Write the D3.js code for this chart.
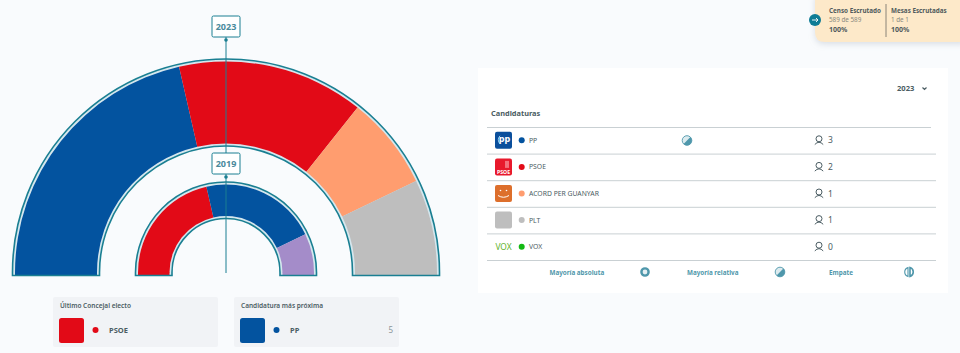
<!DOCTYPE html>
<html lang="es">
<head>
<meta charset="utf-8">
<title>Resultados</title>
<script src="https://cdn.jsdelivr.net/npm/d3@7"></script>
<style>
  html, body { margin: 0; padding: 0; background: #f9fbfd; }
  svg { display: block; font-family: "Noto Sans", sans-serif; }
</style>
</head>
<body>
<div id="chart"></div>
<script>
// Seats per candidacy, left to right around each half ring
const parties2023 = ['PP', 'PSOE', 'ACORD PER GUANYAR', 'PLT'];
const seats2023 = [3, 2, 1, 1];
const colors2023 = ['#03539f', '#e20a17', '#ff9d6f', '#bebebe'];

const parties2019 = ['PSOE', 'PP', 'Otra'];
const seats2019 = [3, 3, 1];
const colors2019 = ['#e20a17', '#03539f', '#a48cc9'];

// Table on the right
const tableParties = ['PP', 'PSOE', 'ACORD PER GUANYAR', 'PLT', 'VOX'];
const tableSeats = [3, 2, 1, 1, 0];
const tableColors = ['#03539f', '#e20a17', '#ff9d6f', '#bebebe', '#13b913'];

const legendLabels = ['Mayoría absoluta', 'Mayoría relativa', 'Empate'];

const TEAL = '#1a7f92';
const INK = '#4b5d63';
const LABEL = '#4f97ab';

const svg = d3.select('#chart').append('svg')
  .attr('width', 960)
  .attr('height', 353)
  .attr('role', 'img')
  .attr('aria-label', 'Semicírculos de concejales por candidatura en 2023 y 2019');

// Half rings. The arcs sit a little above the baseline, with short straight legs below them
const cx = 226;
const cy = 272.5;
const LEG = 3;
const pie = d3.pie().sort(null).startAngle(-Math.PI / 2).endAngle(Math.PI / 2);

function shellPath(outer, inner) {
  const p = d3.path();
  p.moveTo(-outer, LEG);
  p.lineTo(-outer, 0);
  p.arc(0, 0, outer, Math.PI, 0);
  p.lineTo(outer, LEG);
  p.lineTo(inner, LEG);
  p.lineTo(inner, 0);
  p.arc(0, 0, inner, 0, Math.PI, true);
  p.lineTo(-inner, LEG);
  p.closePath();
  return p.toString();
}

function drawRing(values, colors, outer, inner) {
  const g = svg.append('g').attr('transform', `translate(${cx},${cy})`);
  const shell = shellPath(outer, inner);
  const r0 = inner + 2.5;
  const r1 = outer - 2.5;
  g.append('path').attr('d', shell).attr('fill', '#d5e7ee');
  g.selectAll('path.slice')
    .data(pie(values))
    .enter().append('path')
    .attr('class', 'slice')
    .attr('d', d3.arc().innerRadius(r0).outerRadius(r1))
    .attr('fill', (d, i) => colors[i]);
  // Legs take the colour of the first and last slice
  g.append('rect').attr('x', -r1).attr('y', -0.5)
    .attr('width', r1 - r0).attr('height', LEG + 0.5).attr('fill', colors[0]);
  g.append('rect').attr('x', r0).attr('y', -0.5)
    .attr('width', r1 - r0).attr('height', LEG + 0.5).attr('fill', colors[colors.length - 1]);
  g.append('path').attr('d', shell)
    .attr('fill', 'none')
    .attr('stroke', TEAL)
    .attr('stroke-width', 1.6);
}

drawRing(seats2023, colors2023, 213.5, 126.5);
drawRing(seats2019, colors2019, 90.5, 54);

// Year markers and the line through them
svg.append('line')
  .attr('x1', cx).attr('x2', cx)
  .attr('y1', 37).attr('y2', 273)
  .attr('stroke', TEAL).attr('stroke-width', 1);

function yearTag(label, top) {
  svg.append('rect')
    .attr('x', cx - 14).attr('y', top)
    .attr('width', 28).attr('height', 21).attr('rx', 1.5)
    .attr('fill', '#fff').attr('stroke', TEAL).attr('stroke-width', 1);
  svg.append('text')
    .attr('x', cx).attr('y', top + 14)
    .attr('text-anchor', 'middle')
    .attr('font-size', 9).attr('font-weight', 700)
    .attr('fill', '#4a8a9c')
    .text(label);
  svg.append('circle')
    .attr('cx', cx).attr('cy', top + 24)
    .attr('r', 1.8).attr('fill', TEAL);
}
yearTag('2023', 16);
yearTag('2019', 153);

// Bottom cards
function card(x, title, party, color, extra) {
  const g = svg.append('g').attr('transform', `translate(${x},297)`);
  g.append('rect').attr('width', 165).attr('height', 50).attr('rx', 2).attr('fill', '#f1f3f6');
  g.append('text').attr('x', 7).attr('y', 11)
    .attr('font-size', 6.5).attr('font-weight', 600).attr('fill', INK).text(title);
  g.append('rect').attr('x', 6).attr('y', 21).attr('width', 25).attr('height', 25)
    .attr('rx', 2.5).attr('fill', color);
  g.append('circle').attr('cx', 42.5).attr('cy', 33).attr('r', 3).attr('fill', color);
  g.append('text').attr('x', 56).attr('y', 36)
    .attr('font-size', 7.5).attr('font-weight', 700).attr('fill', INK).text(party);
  if (extra) {
    g.append('text').attr('x', 159).attr('y', 36).attr('text-anchor', 'end')
      .attr('font-size', 8).attr('fill', '#8a9599').text(extra);
  }
}
card(53, 'Último Concejal electo', 'PSOE', '#e20a17');
card(234, 'Candidatura más próxima', 'PP', '#03539f', '5');

// Table card
svg.append('rect')
  .attr('x', 478).attr('y', 68).attr('width', 470).attr('height', 225)
  .attr('fill', '#fff');

svg.append('text').attr('x', 897).attr('y', 91)
  .attr('font-size', 7.6).attr('font-weight', 700).attr('fill', INK).text('2023');
svg.append('path')
  .attr('d', 'M922.5 87.5l2 2 2-2')
  .attr('fill', 'none').attr('stroke', INK).attr('stroke-width', 1.2);

svg.append('text').attr('x', 491).attr('y', 115.5)
  .attr('font-size', 7.4).attr('font-weight', 700).attr('fill', INK).text('Candidaturas');

const rowY = d3.scaleBand().domain(tableParties).range([127, 260]);

svg.selectAll('line.rule')
  .data([null].concat(tableParties))
  .enter().append('line')
  .attr('class', 'rule')
  .attr('x1', 487)
  .attr('x2', (d, i) => i === 0 ? 931 : 936)
  .attr('y1', (d, i) => i === 0 ? 127.5 : rowY(d) + rowY.bandwidth() + 0.5)
  .attr('y2', (d, i) => i === 0 ? 127.5 : rowY(d) + rowY.bandwidth() + 0.5)
  .attr('stroke', '#c9d0d3').attr('stroke-width', 1);

function logo(g, name) {
  const box = (fill) => g.append('rect').attr('x', 495).attr('y', -8.5)
    .attr('width', 17).attr('height', 17).attr('rx', 2).attr('fill', fill);
  const label = (text, size, fill, y, weight) => g.append('text').attr('x', 503.5).attr('y', y)
    .attr('text-anchor', 'middle').attr('font-size', size).attr('font-weight', weight)
    .attr('fill', fill).text(text);
  if (name === 'PP') {
    box('#0a4f9c');
    g.append('path').attr('d', 'M500 -4.5A5.5 5.5 0 0 0 500 3.5')
      .attr('fill', 'none').attr('stroke', '#9cc4e8').attr('stroke-width', 1);
    g.append('text').attr('x', 504.5).attr('y', 1.5)
      .attr('text-anchor', 'middle').attr('font-size', 8).attr('font-weight', 700)
      .attr('font-family', '"DejaVu Sans", sans-serif')
      .attr('fill', '#fff').text('pp');
  } else if (name === 'PSOE') {
    box('#e8192c');
    label('PSOE', 5.2, '#fff', 7, 700);
    g.append('rect').attr('x', 505).attr('y', -6).attr('width', 4).attr('height', 7).attr('fill', '#f4707c');
  } else if (name === 'ACORD PER GUANYAR') {
    box('#dd6f2c');
    g.append('path').attr('d', 'M498 2q5.5 3.5 11 0')
      .attr('fill', 'none').attr('stroke', '#fff').attr('stroke-width', 1);
    g.append('circle').attr('cx', 500.5).attr('cy', -3).attr('r', 0.8).attr('fill', '#fff');
    g.append('circle').attr('cx', 506.5).attr('cy', -3).attr('r', 0.8).attr('fill', '#fff');
  } else if (name === 'PLT') {
    box('#bebebe');
  } else {
    label('VOX', 8.4, '#63b32e', 3, 400);
  }
}

function personIcon(g, x) {
  g.append('circle').attr('cx', x).attr('cy', -1.5).attr('r', 3)
    .attr('fill', 'none').attr('stroke', INK).attr('stroke-width', 1);
  g.append('path').attr('d', `M${x - 4.2} 4.2q4.2 -4.5 8.4 0`)
    .attr('fill', 'none').attr('stroke', INK).attr('stroke-width', 1);
}

tableParties.forEach((name, i) => {
  const g = svg.append('g')
    .attr('transform', `translate(0,${rowY(name) + rowY.bandwidth() / 2})`);
  logo(g, name);
  g.append('circle').attr('cx', 521.7).attr('cy', 0).attr('r', 3).attr('fill', tableColors[i]);
  g.append('text').attr('x', 529).attr('y', 2.5)
    .attr('font-size', 6.8).attr('fill', INK).text(name);
  personIcon(g, 819);
  g.append('text').attr('x', 828).attr('y', 3)
    .attr('font-size', 8.5).attr('fill', INK).text(tableSeats[i]);
});

// Majority icons
function majorityIcon(x, y, kind) {
  const g = svg.append('g').attr('transform', `translate(${x},${y})`);
  if (kind === 'Mayoría absoluta') {
    g.append('circle').attr('r', 3.6).attr('fill', '#e4eff3').attr('stroke', LABEL).attr('stroke-width', 2.4);
  } else if (kind === 'Mayoría relativa') {
    g.append('circle').attr('r', 4.8).attr('fill', '#dcebef');
    g.append('path').attr('d', 'M3.4 -3.4A4.8 4.8 0 0 1 -3.4 3.4Z').attr('fill', LABEL);
    g.append('circle').attr('r', 4.8).attr('fill', 'none').attr('stroke', LABEL).attr('stroke-width', 0.9);
  } else {
    g.append('path').attr('d', 'M-1 -4.4A4.6 4.6 0 0 0 -1 4.4Z').attr('fill', 'none').attr('stroke', LABEL).attr('stroke-width', 1.1);
    g.append('path').attr('d', 'M1 -4.4A4.6 4.6 0 0 1 1 4.4Z').attr('fill', 'none').attr('stroke', LABEL).attr('stroke-width', 1.6);
  }
}

majorityIcon(687, 140.5, 'Mayoría relativa');

const legendTextX = [549.5, 687, 829];
const legendIconX = [645, 780, 909];
legendLabels.forEach((label, i) => {
  svg.append('text').attr('x', legendTextX[i]).attr('y', 274.5)
    .attr('font-size', 6.3).attr('font-weight', 700).attr('fill', LABEL).text(label);
  majorityIcon(legendIconX[i], 272, label);
});

// Scrutiny box, top right
const defs = svg.append('defs');
const shadow = defs.append('filter').attr('id', 'boxShadow')
  .attr('x', '-20%').attr('y', '-20%').attr('width', '140%').attr('height', '160%');
shadow.append('feDropShadow')
  .attr('dx', 0).attr('dy', 2).attr('stdDeviation', 3)
  .attr('flood-color', '#9aa5b5').attr('flood-opacity', 0.35);

svg.append('path')
  .attr('d', 'M815 -5H965V42H825Q815 42 815 32Z')
  .attr('fill', '#fde9c9')
  .attr('filter', 'url(#boxShadow)');
svg.append('circle').attr('cx', 815).attr('cy', 20).attr('r', 6).attr('fill', '#0e7c95');
svg.append('path')
  .attr('d', 'M812 20h6M816 18l2 2-2 2')
  .attr('fill', 'none').attr('stroke', '#fff').attr('stroke-width', 0.9);
svg.append('line').attr('x1', 886).attr('x2', 886).attr('y1', 4).attr('y2', 37)
  .attr('stroke', '#8a8478').attr('stroke-width', 1);

function scrutiny(x, title, count, pct) {
  svg.append('text').attr('x', x).attr('y', 13)
    .attr('font-size', 6.3).attr('font-weight', 700).attr('fill', '#4f5a5c').text(title);
  svg.append('text').attr('x', x).attr('y', 22)
    .attr('font-size', 6.3).attr('fill', '#8a8a80').text(count);
  svg.append('text').attr('x', x).attr('y', 32)
    .attr('font-size', 7).attr('font-weight', 700).attr('fill', '#4f5a5c').text(pct);
}
scrutiny(829, 'Censo Escrutado', '589 de 589', '100%');
scrutiny(891, 'Mesas Escrutadas', '1 de 1', '100%');
</script>
</body>
</html>
